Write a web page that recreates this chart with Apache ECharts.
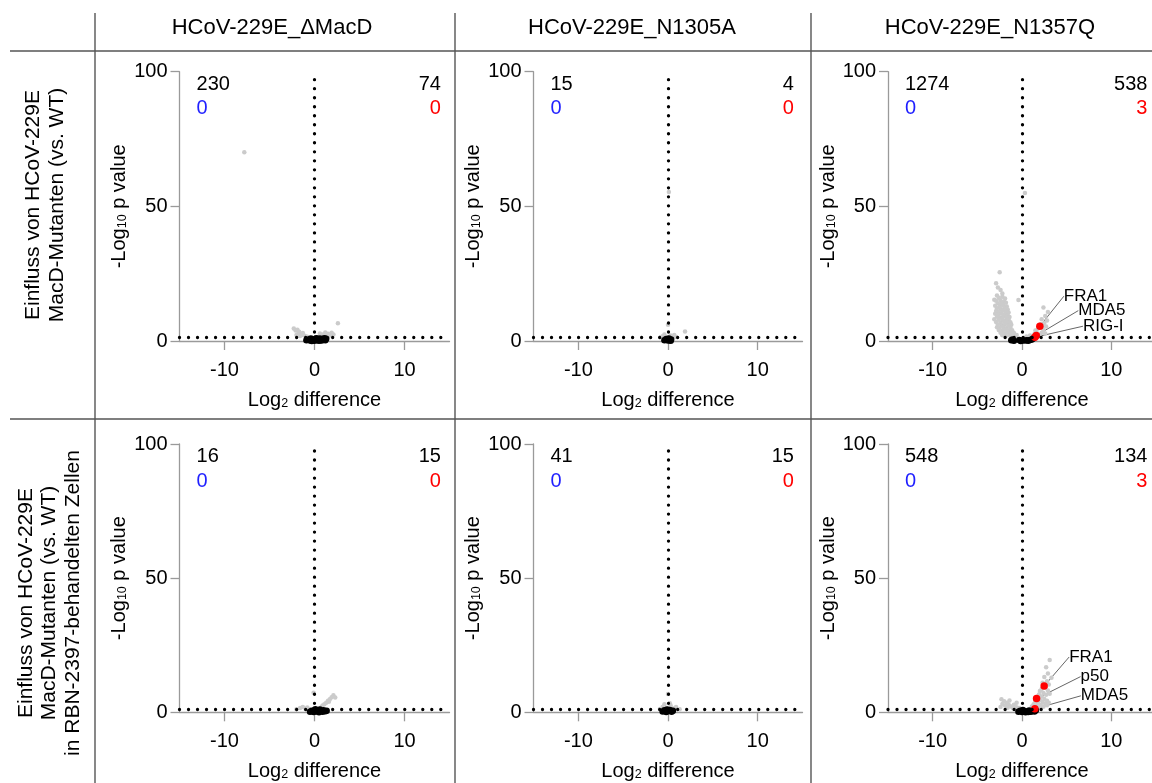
<!DOCTYPE html>
<html>
<head>
<meta charset="utf-8">
<script src="https://cdn.jsdelivr.net/npm/echarts@6/dist/echarts.min.js"></script>
<style>
  html, body { margin: 0; padding: 0; background: #ffffff; }
  #chart { width: 1152px; height: 783px; }
</style>
</head>
<body>
<div id="chart"></div>
<script>
const FONT = '"Liberation Sans", Arial, Helvetica, sans-serif';

// ---- labels -------------------------------------------------------------
const columnTitles = ['HCoV-229E_\u0394MacD', 'HCoV-229E_N1305A', 'HCoV-229E_N1357Q'];
const rowTitles = [
  'Einfluss von HCoV-229E\nMacD-Mutanten (vs. WT)',
  'Einfluss von HCoV-229E\nMacD-Mutanten (vs. WT)\nin RBN-2397-behandelten Zellen'
];
const xTickValues = [-10, 0, 10];
const yTickValues = [0, 50, 100];
const xRange = [-15, 15];
const yRange = [0, 100];
const significanceLevel = 1.3;   // -log10(0.05)

// ---- protein counts per panel (row 1: ΔMacD, N1305A, N1357Q; row 2: same + RBN-2397)
const downCounts      = [230, 15, 1274, 16, 41, 548];
const downSignificant = [0, 0, 0, 0, 0, 0];
const upCounts        = [74, 4, 538, 15, 15, 134];
const upSignificant   = [0, 0, 3, 0, 0, 3];

// ---- points [log2 difference, -log10 p] ----------------------------------
const greyDMacD = [
  [-7.8, 70.1], [2.6, 6.6],
  [-2.3, 4.6], [-2.1, 3.9], [-1.9, 4.2], [-1.7, 3.4], [-1.8, 2.8], [-1.5, 2.5],
  [-1.3, 3.0], [-1.2, 2.1], [-1.0, 1.8], [-2.0, 2.2], [-1.6, 1.9], [-0.8, 1.6],
  [0.4, 1.5], [0.7, 1.9], [0.9, 2.4], [1.1, 1.7], [1.3, 2.2], [1.5, 2.7],
  [1.7, 2.0], [1.9, 3.1], [2.1, 2.4], [0.6, 2.8], [1.2, 3.2]
];
const blackDMacD = [
  [-0.9, 0.3], [-0.7, 0.6], [-0.5, 0.2], [-0.4, 0.9], [-0.2, 0.4], [0.0, 0.1],
  [0.1, 0.7], [0.2, 1.0], [0.3, 0.3], [0.4, 0.6], [0.5, 0.1], [0.6, 0.9],
  [0.7, 0.4], [0.8, 0.2], [0.9, 0.7], [1.0, 0.5], [1.1, 1.0], [1.2, 0.3],
  [1.3, 0.8], [-0.3, 0.0], [0.5, 0.5]
];

const greyN1305A = [
  [0.1, 55.3], [0.0, 6.0], [1.9, 3.5], [-0.6, 1.8], [-0.4, 2.4], [-0.2, 1.5],
  [0.3, 2.0], [0.5, 1.6], [0.7, 2.2], [-0.8, 1.4], [0.9, 1.5]
];
const blackN1305A = [
  [-0.4, 0.3], [-0.2, 0.7], [0.0, 0.2], [0.1, 0.9], [0.2, 0.4], [0.3, 0.1],
  [-0.1, 0.5], [0.35, 0.6]
];

const greyN1357Q = [
  [-2.5, 25.5], [-2.9, 21.4], [-2.4, 18.9], [-2.7, 19.9], [-2.2, 17.6], [-2.8, 16.9],
  [-3.1, 15.3], [-0.4, 15.2], [0.33, 55.0],
  [-2.6, 16.1], [-2.2, 16.4], [-1.9, 15.8],
  [-2.9, 14.9], [-2.4, 15.1], [-2.0, 14.6],
  [-2.7, 14.0], [-2.3, 13.8], [-1.8, 14.2],
  [-3.0, 13.1], [-2.5, 12.9], [-2.1, 13.3], [-1.7, 12.8],
  [-2.8, 12.2], [-2.4, 11.9], [-2.0, 12.1], [-1.6, 11.7],
  [-2.9, 11.1], [-2.6, 10.8], [-2.2, 11.2], [-1.8, 10.9], [-1.5, 10.6],
  [-3.0, 10.1], [-2.7, 9.8], [-2.3, 10.2], [-1.9, 9.9], [-1.6, 9.6],
  [-2.8, 9.0], [-2.5, 8.8], [-2.1, 9.2], [-1.7, 8.7], [-1.4, 8.9],
  [-3.1, 8.1], [-2.6, 7.9], [-2.2, 8.2], [-1.8, 7.8], [-1.5, 8.0],
  [-2.9, 7.1], [-2.4, 6.9], [-2.0, 7.2], [-1.6, 6.8], [-1.3, 7.0],
  [-2.7, 6.1], [-2.3, 5.9], [-1.9, 6.2], [-1.5, 5.8], [-1.2, 6.0],
  [-2.8, 5.1], [-2.5, 4.9], [-2.1, 5.2], [-1.7, 4.8], [-1.3, 5.0],
  [-2.6, 4.1], [-2.2, 3.9], [-1.8, 4.2], [-1.4, 3.8], [-1.1, 4.0],
  [-2.4, 3.1], [-2.0, 2.9], [-1.6, 3.2], [-1.2, 2.8], [-0.9, 3.0],
  [-2.2, 2.1], [-1.8, 1.9], [-1.4, 2.2], [-1.1, 1.8], [-0.8, 1.6],
  [-0.6, 2.2], [0.5, 1.7], [0.9, 2.0],
  [2.4, 12.4], [2.9, 10.8], [2.6, 9.3], [2.2, 8.1], [2.8, 7.6], [2.5, 6.7],
  [2.1, 6.2], [2.7, 5.4], [1.8, 4.6], [2.4, 4.1], [1.6, 3.5], [2.2, 3.1],
  [1.4, 2.6], [2.0, 2.3], [1.2, 1.9], [1.7, 1.6], [2.6, 2.8], [1.9, 5.1],
  [1.5, 3.9], [2.3, 5.6]
];
const blackN1357Q = [
  [-1.07, 0.6], [-1.2, 0.3], [-0.9, 0.1], [-0.15, 0.0], [-0.3, 0.4], [0.0, 0.2],
  [0.7, 0.1], [0.9, 0.4], [1.1, 0.6], [0.55, 0.3], [1.25, 0.9], [0.3, 0.2]
];
const hitsN1357Q = [[2.0, 5.5], [1.6, 2.0], [1.45, 1.4]];
const hitNamesN1357Q = ['FRA1', 'MDA5', 'RIG-I'];

const greyDMacDRbn = [
  [-0.1, 7.3], [2.1, 6.4], [1.9, 5.6], [1.7, 4.9], [1.5, 4.3], [1.3, 3.6],
  [1.1, 3.0], [0.9, 2.5], [0.8, 2.1], [1.6, 3.9], [2.3, 5.5], [-2.0, 1.1],
  [-1.6, 1.6], [-1.3, 2.0], [-1.0, 1.3], [-0.8, 1.8], [-0.6, 1.2]
];
const blackDMacDRbn = [
  [-0.5, 0.2], [-0.3, 0.6], [-0.1, 0.1], [0.0, 0.8], [0.2, 0.3], [0.4, 0.7],
  [0.5, 0.0], [0.7, 0.5], [0.9, 0.2], [1.0, 0.8], [1.2, 0.4], [1.35, 0.6],
  [0.1, 1.1], [0.6, 1.0]
];

const greyN1305ARbn = [
  [0.0, 6.8], [-0.9, 1.2], [-0.6, 2.0], [-0.4, 3.0], [-0.2, 1.6], [0.3, 2.4],
  [0.6, 1.4], [0.9, 2.0], [1.3, 1.1], [0.2, 3.4]
];
const blackN1305ARbn = [
  [-0.6, 0.3], [-0.4, 0.8], [-0.2, 0.1], [0.0, 0.5], [0.2, 0.9], [0.4, 0.2],
  [0.55, 0.6], [-0.1, 1.0]
];

const greyN1357QRbn = [
  [3.1, 19.5], [2.9, 14.5], [2.7, 16.8], [3.3, 12.9], [2.5, 13.2], [2.8, 11.6],
  [3.0, 10.4], [2.3, 11.0], [2.6, 9.2], [2.2, 8.7], [2.9, 8.1], [2.0, 7.9],
  [2.4, 7.2], [2.7, 6.5], [1.9, 6.6], [2.2, 5.9], [3.1, 6.9], [1.7, 5.4],
  [2.5, 5.0], [2.0, 4.6], [2.8, 4.3], [1.5, 4.1], [2.3, 3.8], [1.8, 3.4],
  [2.6, 3.2], [1.3, 3.0], [2.1, 2.7], [1.6, 2.4], [2.4, 2.1], [1.1, 2.2],
  [1.9, 1.8], [1.4, 1.6], [2.8, 2.6], [3.0, 3.6],
  [-2.3, 4.9], [-2.0, 4.1], [-1.7, 3.6], [-1.4, 4.4], [-2.2, 3.1], [-1.9, 2.5],
  [-1.5, 2.9], [-1.2, 2.2], [-0.9, 2.8], [-0.6, 1.9], [-1.6, 1.7], [-2.4, 2.0],
  [-1.0, 1.5], [-0.3, 1.6], [-0.6, 3.6]
];
const blackN1357QRbn = [
  [-0.4, 0.2], [-0.2, 0.6], [0.0, 0.1], [0.2, 0.5], [0.4, 0.0], [0.6, 0.4],
  [0.8, 0.7], [1.0, 0.2], [1.2, 0.6], [1.4, 0.3], [1.55, 0.8], [0.1, 0.9], [0.7, 0.1]
];
const hitsN1357QRbn = [[2.48, 9.8], [1.63, 5.1], [1.44, 1.3]];
const hitNamesN1357QRbn = ['FRA1', 'p50', 'MDA5'];

// ---- panel assembly ----------------------------------------------------
const panels = [
  { grey: greyDMacD,     black: blackDMacD,     hits: [],            names: [] },
  { grey: greyN1305A,    black: blackN1305A,    hits: [],            names: [] },
  { grey: greyN1357Q,    black: blackN1357Q,    hits: hitsN1357Q,    names: hitNamesN1357Q },
  { grey: greyDMacDRbn,  black: blackDMacDRbn,  hits: [],            names: [] },
  { grey: greyN1305ARbn, black: blackN1305ARbn, hits: [],            names: [] },
  { grey: greyN1357QRbn, black: blackN1357QRbn, hits: hitsN1357QRbn, names: hitNamesN1357QRbn }
];

// layout (pixels)
const colLeft = [179.5, 533.5, 888];
const colWidth = [270, 269, 268];
const rowTop = [71.7, 444];
const rowHeight = [269.3, 268.3];
const hitLabelOffsets = [
  null, null, [[24, -30], [42, -25], [48, -11]],
  null, null, [[25, -29], [44, -22], [46, -13]]
];
// count label anchors in axis units
const countLeftX = -13.05, countRightX = 14.1, countTopY = 95.0, countLowY = 86.0;

const axisGrey = '#9a9a9a';
const richName = {
  a: { fontSize: 20, lineHeight: 23, verticalAlign: 'bottom', color: '#000', fontFamily: FONT },
  s: { fontSize: 12.5, lineHeight: 14, verticalAlign: 'bottom', color: '#000', fontFamily: FONT }
};

const grids = [], xAxes = [], yAxes = [], series = [];

panels.forEach((p, i) => {
  const c = i % 3, r = Math.floor(i / 3);
  grids.push({
    left: colLeft[c], top: rowTop[r], width: colWidth[c], height: rowHeight[r],
    containLabel: false, outerBoundsMode: 'none'
  });
  xAxes.push({
    type: 'value', gridIndex: i, min: xRange[0], max: xRange[1],
    axisLine: { show: true, onZero: false, lineStyle: { color: axisGrey, width: 1.3 } },
    axisTick: { show: true, length: 9, customValues: xTickValues, lineStyle: { color: axisGrey, width: 1.3 } },
    axisLabel: { customValues: xTickValues, color: '#000', fontSize: 20, fontFamily: FONT, margin: 19 },
    splitLine: { show: false },
    name: '{a|Log}{s|2}{a| difference}',
    nameLocation: 'middle', nameGap: 46,
    nameTextStyle: { rich: richName }
  });
  yAxes.push({
    type: 'value', gridIndex: i, min: yRange[0], max: yRange[1],
    axisLine: { show: true, onZero: false, lineStyle: { color: axisGrey, width: 1.3 } },
    axisTick: { show: true, length: 9, customValues: yTickValues, lineStyle: { color: axisGrey, width: 1.3 } },
    axisLabel: { customValues: yTickValues, color: '#000', fontSize: 20, fontFamily: FONT, margin: 12 },
    splitLine: { show: false },
    name: '{a|-Log}{s|10}{a| p value}',
    nameLocation: 'middle', nameGap: 50, nameRotate: 90,
    nameTextStyle: { rich: richName }
  });

  // all quantified proteins
  series.push({
    type: 'scatter', xAxisIndex: i, yAxisIndex: i, silent: true,
    symbolSize: 4.5, itemStyle: { color: '#cbcbcb', opacity: 1 },
    data: p.grey,
    markLine: {
      silent: true, symbol: 'none', animation: false,
      label: { show: false },
      lineStyle: { color: '#000', width: 3.3, type: [0.01, 9], cap: 'round', opacity: 1 },
      data: [{ yAxis: significanceLevel }, { xAxis: 0 }]
    }
  });
  // proteins without change
  series.push({
    type: 'scatter', xAxisIndex: i, yAxisIndex: i, silent: true,
    symbolSize: 6.5, itemStyle: { color: '#000000', opacity: 1 },
    data: p.black
  });
  // highlighted hits
  if (p.hits.length) {
    const offs = hitLabelOffsets[i];
    series.push({
      type: 'scatter', xAxisIndex: i, yAxisIndex: i, silent: true,
      symbolSize: 7.5, itemStyle: { color: '#ff0000', opacity: 1 },
      data: p.hits.map((v, k) => ({ name: p.names[k], value: v })),
      label: { show: true, formatter: '{b}', color: '#000', opacity: 1, fontSize: 17, fontFamily: FONT },
      labelLine: { show: true, lineStyle: { color: '#666', width: 1, opacity: 1 } },
      labelLayout: (params) => {
        const o = offs[params.dataIndex];
        return {
          x: params.rect.x + params.rect.width / 2 + o[0],
          y: params.rect.y + params.rect.height / 2 + o[1],
          align: 'left', verticalAlign: 'middle'
        };
      }
    });
  }
  // counts of down / up regulated proteins
  series.push({
    type: 'scatter', xAxisIndex: i, yAxisIndex: i, silent: true,
    symbolSize: 1, itemStyle: { color: 'rgba(255,255,255,0)', opacity: 1 },
    label: { show: true, position: [0, 0], verticalAlign: 'middle', fontSize: 20, fontFamily: FONT, opacity: 1 },
    data: [
      { value: [countLeftX, countTopY], label: { formatter: String(downCounts[i]), align: 'left', color: '#000000' } },
      { value: [countLeftX, countLowY], label: { formatter: String(downSignificant[i]), align: 'left', color: '#1f1fff' } },
      { value: [countRightX, countTopY], label: { formatter: String(upCounts[i]), align: 'right', color: '#000000' } },
      { value: [countRightX, countLowY], label: { formatter: String(upSignificant[i]), align: 'right', color: '#ff0000' } }
    ]
  });
});

// table frame, column and row headers
const frame = '#555555';
const graphic = [
  { type: 'line', shape: { x1: 10, y1: 51, x2: 1152, y2: 51 }, style: { stroke: frame, lineWidth: 1.4 } },
  { type: 'line', shape: { x1: 10, y1: 419, x2: 1152, y2: 419 }, style: { stroke: frame, lineWidth: 1.4 } },
  { type: 'line', shape: { x1: 95, y1: 13, x2: 95, y2: 783 }, style: { stroke: frame, lineWidth: 1.4 } },
  { type: 'line', shape: { x1: 455, y1: 13, x2: 455, y2: 783 }, style: { stroke: frame, lineWidth: 1.4 } },
  { type: 'line', shape: { x1: 811, y1: 13, x2: 811, y2: 783 }, style: { stroke: frame, lineWidth: 1.4 } }
];
const titleX = [272, 632, 990];
columnTitles.forEach((t, k) => {
  graphic.push({
    type: 'text', x: titleX[k], y: 28,
    style: { text: t, font: '22px ' + FONT, fill: '#000', align: 'center', verticalAlign: 'middle' }
  });
});
const rowLabelPos = [[45, 205], [49.5, 603]];
rowTitles.forEach((t, k) => {
  graphic.push({
    type: 'text', x: rowLabelPos[k][0], y: rowLabelPos[k][1], rotation: Math.PI / 2,
    style: { text: t, font: '21px ' + FONT, fill: '#000', align: 'center', verticalAlign: 'middle', lineHeight: 23.7 }
  });
});

const chart = echarts.init(document.getElementById('chart'), null, { renderer: 'canvas' });
chart.setOption({
  backgroundColor: '#ffffff',
  animation: false,
  textStyle: { fontFamily: FONT },
  grid: grids,
  xAxis: xAxes,
  yAxis: yAxes,
  series: series,
  graphic: graphic
});
</script>
</body>
</html>
